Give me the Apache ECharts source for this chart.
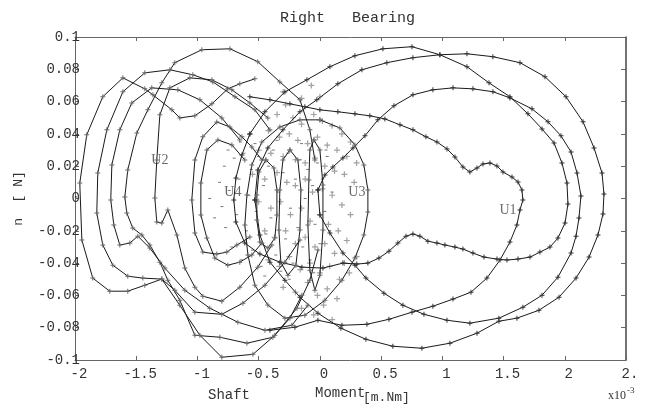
<!DOCTYPE html>
<html>
<head>
<meta charset="utf-8">
<script src="https://cdn.jsdelivr.net/npm/echarts@6/dist/echarts.min.js"></script>
<style>
  html, body { margin: 0; padding: 0; background: #fff; }
  #chart { width: 649px; height: 409px; }
</style>
</head>
<body>
<div id="chart"></div>
<script>
// tick labels (2.5 is cut to "2." there)
const xTickLabels = ['-2', '-1.5', '-1', '-0.5', '0', '0.5', '1', '1.5', '2', '2.']
const yTickLabels = ['-0.1', '-0.08', '-0.06', '-0.04', '-0.02', '0', '0.02', '0.04', '0.06', '0.08', '0.1']

// U1 family (right orbits)
const curveA = [[-0.572,0.040],[-0.449,0.0537],[-0.286,0.066],[-0.106,0.0735],[0.082,0.0816],[0.286,0.0884],[0.515,0.0927],[0.752,0.094],[0.98,0.089],[1.201,0.0816],[1.381,0.0716],[1.552,0.063],[1.699,0.0524],[1.814,0.0431],[1.912,0.0344],[1.977,0.022],[2.018,0.0096],[2.026,-0.0034],[2.002,-0.0152],[1.944,-0.0245],[1.879,-0.0301],[1.797,-0.0332],[1.716,-0.0363],[1.618,-0.0375],[1.528,-0.0381],[1.446,-0.0375],[1.34,-0.0363],[1.25,-0.0338],[1.168,-0.0313],[1.103,-0.0301],[1.021,-0.0288],[0.956,-0.0276],[0.882,-0.0264],[0.817,-0.0233],[0.76,-0.022],[0.703,-0.0233],[0.637,-0.0276],[0.564,-0.0326],[0.482,-0.0369],[0.392,-0.04],[0.302,-0.0406],[0.188,-0.04],[0.025,-0.0431],[-0.147,-0.0425],[-0.327,-0.0394],[-0.49,-0.0344],[-0.613,-0.0276],[-0.686,-0.0146],[-0.703,-0.0009],[-0.686,0.0127],[-0.637,0.027],[-0.572,0.040]]
const curveT2 = [[-0.531,-0.0009],[-0.507,0.0177],[-0.425,0.0313],[-0.302,0.0425],[-0.163,0.0537],[-0.025,0.0611],[0.147,0.071],[0.343,0.0797],[0.547,0.0841],[0.76,0.0872],[0.98,0.089],[1.201,0.0896],[1.413,0.0878],[1.634,0.0841],[1.838,0.0754],[2.01,0.063],[2.149,0.0475],[2.239,0.0313],[2.304,0.0158],[2.32,0.0028],[2.312,-0.0096],[2.271,-0.0226],[2.198,-0.0363],[2.092,-0.0493],[1.953,-0.0611],[1.789,-0.0692],[1.609,-0.0741],[1.462,-0.076],[1.283,-0.0834],[1.062,-0.0896],[0.833,-0.0927],[0.596,-0.0915],[0.376,-0.0872],[0.172,-0.0803],[-0.016,-0.071],[-0.163,-0.0611],[-0.286,-0.0506],[-0.408,-0.0394],[-0.49,-0.0226],[-0.531,-0.0009]]
const curveB = [[-0.016,0.0053],[0.041,0.0146],[0.106,0.0195],[0.188,0.0251],[0.27,0.0313],[0.368,0.0388],[0.474,0.0487],[0.605,0.0574],[0.76,0.0642],[0.923,0.0673],[1.087,0.0685],[1.25,0.0679],[1.413,0.0661],[1.552,0.0623],[1.732,0.0555],[1.863,0.0475],[1.969,0.0388],[2.051,0.0288],[2.1,0.0158],[2.132,0.0016],[2.116,-0.0121],[2.092,-0.0233],[2.051,-0.0338],[1.944,-0.0487],[1.814,-0.0599],[1.658,-0.0673],[1.462,-0.0741],[1.225,-0.0772],[1.038,-0.0754],[0.85,-0.0717],[0.678,-0.0661],[0.523,-0.0586],[0.376,-0.0493],[0.286,-0.0413],[0.188,-0.0338],[0.082,-0.0214],[0,-0.0102],[-0.016,0.0053]]
const curveU1 = [[-0.572,0.063],[-0.408,0.0611],[-0.245,0.0586],[-0.123,0.0568],[0,0.0549],[0.147,0.0537],[0.286,0.0524],[0.408,0.0512],[0.531,0.0493],[0.654,0.0456],[0.76,0.0425],[0.866,0.0382],[0.956,0.035],[1.038,0.0307],[1.103,0.0257],[1.168,0.0195],[1.225,0.0164],[1.283,0.0189],[1.332,0.0214],[1.389,0.022],[1.446,0.0202],[1.495,0.0164],[1.569,0.0133],[1.618,0.0102],[1.65,0.0053],[1.658,-0.0009],[1.634,-0.0071],[1.609,-0.0164],[1.552,-0.027],[1.471,-0.0381],[1.364,-0.0493],[1.234,-0.058],[1.087,-0.0623],[0.923,-0.0667],[0.752,-0.0704],[0.564,-0.0748],[0.384,-0.0779],[0.18,-0.0785],[-0.016,-0.0754],[-0.204,-0.0797],[-0.408,-0.0816]]

// U2 family (left orbits)
const curveL1 = [[-0.531,0.0741],[-0.654,0.071],[-0.752,0.0679],[-0.882,0.0586],[-1.021,0.0512],[-1.144,0.0499],[-1.209,0.0549],[-1.364,0.0642],[-1.43,0.0679],[-1.609,0.0747],[-1.773,0.063],[-1.904,0.0394],[-1.961,0.0096],[-1.944,-0.0257],[-1.855,-0.0493],[-1.716,-0.0574],[-1.569,-0.0574],[-1.43,-0.0537],[-1.291,-0.0499],[-1.185,-0.0568],[-1.021,-0.0704],[-0.801,-0.0717],[-0.629,-0.0648],[-0.449,-0.0537],[-0.286,-0.0394],[-0.163,-0.0257]]
const curveL2 = [[-0.041,0.0239],[-0.082,0.0425],[-0.163,0.0611],[-0.327,0.0722],[-0.507,0.0847],[-0.735,0.0927],[-0.964,0.0921],[-1.185,0.0841],[-1.291,0.0716],[-1.405,0.0549],[-1.495,0.0406],[-1.569,0.0177],[-1.593,0.0009],[-1.577,-0.009],[-1.528,-0.0183],[-1.454,-0.0226],[-1.389,-0.0288],[-1.307,-0.0394],[-1.242,-0.0506],[-1.144,-0.063],[-1.021,-0.0847],[-0.817,-0.0859],[-0.596,-0.0896],[-0.384,-0.0859],[-0.245,-0.0741],[-0.147,-0.0599]]
const curveL3 = [[-0.408,0.0425],[-0.531,0.0549],[-0.694,0.063],[-0.874,0.0722],[-1.038,0.0766],[-1.225,0.0797],[-1.43,0.0778],[-1.609,0.0661],[-1.74,0.0425],[-1.814,0.0158],[-1.822,-0.009],[-1.773,-0.0288],[-1.691,-0.0413],[-1.569,-0.0481],[-1.446,-0.0493],[-1.291,-0.0499],[-1.144,-0.0661],[-0.98,-0.0847],[-0.801,-0.0983],[-0.547,-0.0965],[-0.368,-0.0847],[-0.188,-0.0679],[-0.082,-0.0506],[-0.016,-0.0319]]
const curveL4 = [[-0.654,0.0363],[-0.801,0.0499],[-0.98,0.0611],[-1.16,0.0673],[-1.373,0.0685],[-1.536,0.0592],[-1.634,0.0425],[-1.699,0.0208],[-1.708,-0.0009],[-1.683,-0.0164],[-1.634,-0.0288],[-1.552,-0.0276],[-1.487,-0.0233],[-1.389,-0.0307],[-1.266,-0.0431],[-1.103,-0.0568],[-0.899,-0.0679],[-0.67,-0.0766],[-0.449,-0.0816],[-0.229,-0.0785],[-0.098,-0.0661]]
const curveL5 = [[-0.425,0.0499],[-0.572,0.0592],[-0.719,0.0673],[-0.882,0.0735],[-1.062,0.0747],[-1.225,0.0685],[-1.307,0.0518],[-1.332,0.0239],[-1.348,0.0003],[-1.332,-0.0146],[-1.291,-0.0152],[-1.242,-0.0071],[-1.168,-0.0226],[-1.103,-0.0431],[-1.021,-0.0549],[-0.956,-0.0605],[-0.801,-0.0636],[-0.654,-0.0549],[-0.507,-0.0425],[-0.392,-0.0288]]
const curveL6 = [[-0.474,0.0239],[-0.556,0.0319],[-0.637,0.0382],[-0.735,0.0443],[-0.842,0.0474],[-0.956,0.0382],[-1.021,0.0239],[-1.046,-0.0009],[-1.021,-0.0214],[-0.956,-0.0332],[-0.842,-0.0344],[-0.76,-0.0332],[-0.678,-0.0288],[-0.572,-0.0239]]
const curveL7 = [[-0.613,0.0239],[-0.719,0.0332],[-0.833,0.0363],[-0.923,0.0301],[-0.972,0.0096],[-0.972,-0.0102],[-0.923,-0.0245],[-0.858,-0.0369],[-0.752,-0.0413],[-0.654,-0.0394],[-0.556,-0.035],[-0.474,-0.0276]]

// narrow middle orbits (U3 / U4)
const curveC1 = [[-0.441,0.0239],[-0.376,0.0189],[-0.351,0.0053],[-0.351,-0.0102],[-0.368,-0.0245],[-0.425,-0.0307],[-0.49,-0.027],[-0.515,-0.0133],[-0.515,0.0022],[-0.498,0.0164],[-0.441,0.0239]]
const curveC2 = [[-0.245,0.0301],[-0.18,0.0239],[-0.155,0.0053],[-0.163,-0.0195],[-0.196,-0.0413],[-0.261,-0.0475],[-0.319,-0.0394],[-0.335,-0.0195],[-0.327,0.0053],[-0.302,0.0239],[-0.245,0.0301]]
const curveC3 = [[-0.049,0.0363],[0,0.0301],[0.025,0.0084],[0.025,-0.0195],[0,-0.0475],[-0.041,-0.0568],[-0.082,-0.0444],[-0.098,-0.0164],[-0.09,0.0115],[-0.082,0.0301],[-0.049,0.0363]]
const curveC4 = [[0,0.0487],[0.163,0.0437],[0.286,0.0332],[0.359,0.0208],[0.392,0.0053],[0.392,-0.0084],[0.359,-0.0226],[0.286,-0.0369],[0.18,-0.0506],[0.041,-0.063],[-0.123,-0.0723],[-0.286,-0.0741],[-0.425,-0.066],[-0.531,-0.0537],[-0.588,-0.035],[-0.613,-0.0164],[-0.596,0.0022],[-0.556,0.0208],[-0.474,0.035],[-0.327,0.0443],[-0.163,0.0487],[0,0.0487]]

// scattered "+" samples (U3) and "." samples (U4)
const plusPoints = [[-0.35,0.052],[-0.28,0.058],[-0.22,0.05],[-0.15,0.046],[-0.05,0.052],[0.02,0.048],[0.1,0.045],[0.18,0.04],[0.25,0.035],[-0.42,0.042],[-0.33,0.038],[-0.25,0.04],[-0.18,0.036],[-0.1,0.034],[-0.02,0.038],[0.06,0.033],[0.14,0.03],[0.22,0.026],[0.3,0.022],[-0.5,0.03],[-0.4,0.028],[-0.3,0.026],[-0.2,0.024],[-0.12,0.022],[-0.04,0.025],[0.04,0.02],[0.12,0.017],[0.2,0.015],[0.28,0.01],[-0.55,0.015],[-0.45,0.012],[-0.35,0.016],[-0.27,0.01],[-0.2,0.008],[-0.12,0.012],[-0.06,0.004],[0.02,0.006],[0.1,0.002],[0.18,-0.004],[0.25,-0.01],[-0.5,-0.002],[-0.4,-0.006],[-0.32,-0.002],[-0.24,-0.01],[-0.15,-0.006],[-0.08,-0.014],[0,-0.01],[0.07,-0.016],[0.15,-0.02],[0.22,-0.026],[-0.45,-0.02],[-0.37,-0.024],[-0.28,-0.02],[-0.2,-0.028],[-0.12,-0.024],[-0.04,-0.03],[0.04,-0.028],[0.12,-0.034],[0.2,-0.04],[0.3,-0.036],[-0.42,-0.038],[-0.33,-0.042],[-0.25,-0.036],[-0.16,-0.044],[-0.08,-0.04],[0,-0.046],[0.08,-0.042],[0.16,-0.05],[0.24,-0.046],[-0.3,-0.055],[-0.2,-0.058],[-0.1,-0.052],[-0.02,-0.06],[0.06,-0.056],[0.14,-0.062],[-0.15,-0.068],[-0.05,-0.072],[0.03,-0.066],[0.1,-0.075],[-0.3,0.066],[-0.07,0.07],[-0.15,0.062],[0,0.063]]
const dotPoints = [[-0.82,0.01],[-0.8,-0.005],[-0.78,0.02],[-0.77,-0.018],[-0.74,0.005],[-0.72,-0.03],[-0.7,0.025],[-0.68,-0.01],[-0.66,0.012],[-0.64,-0.038],[-0.62,0.028],[-0.6,-0.02],[-0.58,0.002],[-0.56,0.018],[-0.55,-0.032],[-0.52,-0.008],[-0.5,0.026],[-0.48,-0.042],[-0.46,0.008],[-0.44,-0.022],[-0.42,0.02],[-0.4,-0.012],[-0.38,0.03],[-0.36,-0.035],[-0.34,0.004],[-0.32,-0.045],[-0.3,0.016],[-0.28,-0.025],[-0.26,0.028],[-0.24,-0.006],[-0.22,-0.04],[-0.2,0.012],[-0.18,-0.018],[-0.16,0.024],[-0.14,-0.03],[-0.12,0],[-0.1,0.018],[-0.08,-0.038],[-0.06,0.008],[-0.04,-0.016],[-0.02,0.022],[0,-0.028],[0.02,0.012],[0.04,-0.008],[0.06,0.026],[0.08,-0.02],[-0.9,0],[-0.86,-0.012],[-0.75,0.03],[-0.65,0.035],[-0.53,0.034],[-0.45,-0.048],[-0.35,0.036],[-0.25,-0.05],[-0.15,0.034],[-0.05,-0.046],[0.05,0.03],[0.1,0.004]]

// orbit names written in the plot
const orbitNames = ['U1', 'U2', 'U3', 'U4']
const orbitNameX = [1.536, -1.307, 0.302, -0.711]
const orbitNameY = [-0.0071, 0.0239, 0.004, 0.004]

const monoFont = 'Liberation Mono'
const plusSymbol = 'path://M4,0H6V4H10V6H6V10H4V6H0V4H4Z'

const darkCurves = [curveA, curveT2, curveB, curveU1]
const lightCurves = [curveL1, curveL2, curveL3, curveL4, curveL5, curveL6, curveL7, curveC1, curveC2, curveC3, curveC4]

function lineSeries(data, markColor) {
  return {
    type: 'line',
    data: data,
    symbol: plusSymbol,
    symbolSize: 5,
    showAllSymbol: true,
    lineStyle: { color: '#1a1a1a', width: 1 },
    itemStyle: { color: markColor },
    silent: true
  }
}

let myChart = echarts.init(document.getElementById('chart'), null, { renderer: 'canvas' })

let series = []
lightCurves.forEach(c => series.push(lineSeries(c, '#6a6a6a')))
darkCurves.forEach(c => series.push(lineSeries(c, '#333')))
series.push({
  type: 'scatter',
  data: plusPoints,
  symbol: plusSymbol,
  symbolSize: 6,
  itemStyle: { color: '#8a8a8a' }
})
series.push({
  type: 'scatter',
  data: dotPoints,
  symbol: 'rect',
  symbolSize: [3, 1],
  itemStyle: { color: '#555' }
})
series.push({
  type: 'scatter',
  data: orbitNames.map((n, i) => ({ name: n, value: [orbitNameX[i], orbitNameY[i]] })),
  symbolSize: 0,
  label: {
    show: true,
    position: 'inside',
    formatter: p => p.name,
    fontFamily: 'Liberation Serif',
    fontSize: 14,
    color: '#444'
  }
})

let option = {
  animation: false,
  backgroundColor: '#fff',
  grid: { left: 75, right: 23, top: 37, bottom: 49 },
  xAxis: [
    {
      type: 'value',
      min: -2,
      max: 2.5,
      interval: 0.5,
      axisLine: { onZero: false, lineStyle: { color: '#666', width: 1 } },
      axisTick: { inside: true, length: 4, lineStyle: { color: '#666' } },
      splitLine: { show: false },
      axisLabel: {
        margin: 7,
        fontFamily: monoFont,
        fontSize: 14,
        color: '#333',
        padding: [0, 0, 0, 8],
        formatter: v => xTickLabels[Math.round((v + 2) / 0.5)]
      }
    },
    {
      type: 'value',
      position: 'top',
      min: -2,
      max: 2.5,
      interval: 0.5,
      axisLine: { show: true, onZero: false, lineStyle: { color: '#666', width: 1 } },
      axisTick: { inside: true, length: 4, lineStyle: { color: '#666' } },
      axisLabel: { show: false },
      splitLine: { show: false }
    }
  ],
  yAxis: [
    {
      type: 'value',
      min: -0.1,
      max: 0.1,
      interval: 0.02,
      name: 'n  [ N]',
      nameLocation: 'middle',
      nameGap: 50,
      nameTextStyle: { fontFamily: monoFont, fontSize: 13, color: '#333' },
      axisLine: { show: true, onZero: false, lineStyle: { color: '#666', width: 1 } },
      axisTick: { show: true, inside: true, length: 4, lineStyle: { color: '#666' } },
      splitLine: { show: false },
      axisLabel: {
        margin: -5,
        fontFamily: monoFont,
        fontSize: 14,
        color: '#333',
        formatter: v => yTickLabels[Math.round((v + 0.1) / 0.02)]
      }
    },
    {
      type: 'value',
      position: 'right',
      min: -0.1,
      max: 0.1,
      interval: 0.02,
      axisLine: { show: true, onZero: false, lineStyle: { color: '#444', width: 1.5 } },
      axisTick: { show: true, inside: true, length: 5, lineStyle: { color: '#666' } },
      axisLabel: { show: false },
      splitLine: { show: false }
    }
  ],
  graphic: [
    { type: 'text', left: 280, top: 11, style: { text: 'Right   Bearing', font: '15px "Liberation Mono"', fill: '#333' } },
    { type: 'text', left: 208, top: 388, style: { text: 'Shaft', font: '14px "Liberation Mono"', fill: '#333' } },
    { type: 'text', left: 315, top: 386, style: { text: 'Moment', font: '14px "Liberation Mono"', fill: '#333' } },
    { type: 'text', left: 363, top: 391, style: { text: '[m.Nm]', font: '13px "Liberation Mono"', fill: '#333' } },
    { type: 'text', left: 608, top: 390, style: { text: 'x10', font: '12px "Liberation Serif"', fill: '#333' } },
    { type: 'text', left: 627, top: 386, style: { text: '-3', font: '9px "Liberation Serif"', fill: '#333' } }
  ],
  series: series
}
myChart.setOption(option)
</script>
</body>
</html>
